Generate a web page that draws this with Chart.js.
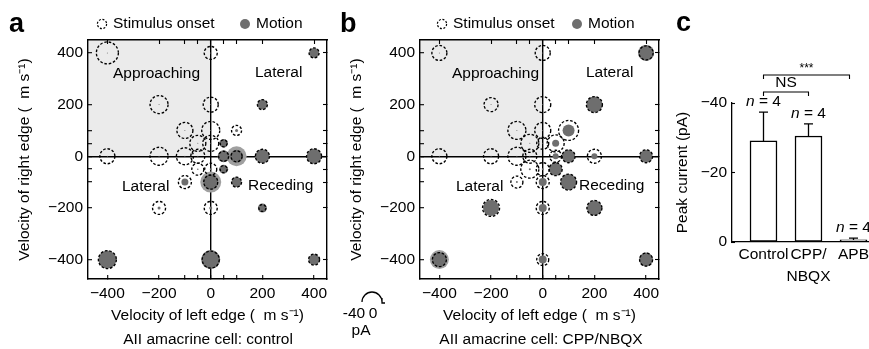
<!DOCTYPE html>
<html>
<head>
<meta charset="utf-8">
<script src="https://cdn.jsdelivr.net/npm/chart.js@4.4.1/dist/chart.umd.min.js"></script>
<style>
  html, body { margin: 0; padding: 0; background: #fff; width: 869px; height: 349px; overflow: hidden; }
  canvas { position: absolute; top: 0; }
</style>
</head>
<body>
<canvas id="chartA" width="345" height="349" style="left:0px"></canvas>
<canvas id="chartB" width="345" height="349" style="left:332px"></canvas>
<canvas id="chartC" width="250" height="349" style="left:640px"></canvas>
<script>
// stimulus grid: velocity of left edge / right edge (um/s)
const leftVel  = [-400, -200, -100, -50, 50, 100, 200, 400,   0,   0,   0,  0,   0,    0,    0,    0,  50, 100, 200, 400, -50, -100, -200, -400, -50, -100, -200, -400,  50,  100,  200,  400];
const rightVel = [   0,    0,    0,   0,  0,   0,   0,   0, 400, 200, 100, 50, -50, -100, -200, -400,  50, 100, 200, 400, -50, -100, -200, -400,  50,  100,  200,  400, -50, -100, -200, -400];

// panel a (control): response amplitudes, pA
const onsetCtrl  = [30, 36, 34, 28, 20, 22, 28, 30,  26, 30, 36, 32, 24, 28, 26, 34,  14, 20, 20, 20, 24, 26, 26, 36,  32, 32, 36, 44, 14, 20, 14, 22];
const motionCtrl = [ 2,  2,  2,  2, 24, 26, 28, 30,   2,  2,  2,  2,  4, 30,  6, 38,  17,  6, 20, 20,  3, 14,  6, 36,   2,  2,  2,  2, 18, 20, 18, 22];
const semCtrl    = [ 0,  0,  0,  0,  0, 40,  0,  0,   0,  0,  0,  0,  0, 42,  0,  0,   0,  0,  0,  0,  0,  0,  0,  0,   0,  0,  0,  0,  0,  0,  0,  0];

// panel b (CPP/NBQX)
const onsetDrug  = [30, 30, 36, 28, 24, 26, 28, 26,  30, 32, 32, 24, 26, 26, 26, 24,  34, 40, 32, 28, 36, 24, 34, 28,  36, 36, 28, 30, 26, 32, 30, 26];
const motionDrug = [ 2,  2,  2,  2, 12, 26, 12, 26,   2,  2,  2,  2,  4, 16, 16, 16,  14, 24, 32, 32,  4,  4, 32, 30,   2,  2,  2,  2, 26, 32, 30, 28];
const semDrug    = [ 0,  0,  0,  0,  0,  0,  0,  0,   0,  0,  0,  0,  0,  0,  0,  0,   0,  0,  0,  0,  0,  0,  0, 38,   0,  0,  0,  0,  0,  0,  0,  0];

const gridTicks = [-400, -200, -100, -50, 0, 50, 100, 200, 400];

// panel c
const barLabels = ['Control', ['CPP/', 'NBQX'], 'APB'];
const barPos = [1, 2, 3];
const peakCurrent = [-29.1, -30.5, -0.6];
const peakSem = [8.3, 3.5, 0.5];
const nCells = [4, 4, 4];
const peakTicks = [-40, -20, 0];

const PX_PER_PA = 0.25;
const INK = '#000';
const MOTION_GRAY = '#6e6e6e';
const HALO_GRAY = '#a0a0a0';
const SHADE = '#ebebeb';
const FONT = "'Liberation Sans', Arial, Helvetica, sans-serif";

Chart.defaults.font.family = FONT;
Chart.defaults.font.size = 15.5;
Chart.defaults.color = INK;
Chart.defaults.animation = false;
Chart.defaults.plugins.legend.display = false;
Chart.defaults.plugins.tooltip.enabled = false;

const minus = v => (v < 0 ? '\u2212' + Math.abs(v) : String(v));

function bubbles(amps) {
  return leftVel.map((x, i) => ({ x: x, y: rightVel[i], r: amps[i] * PX_PER_PA })).filter(p => p.r > 0);
}

function txt(ctx, s, x, y, font, align) {
  ctx.save();
  ctx.font = font;
  ctx.fillStyle = INK;
  ctx.textAlign = align || 'left';
  ctx.textBaseline = 'middle';
  ctx.fillText(s, x, y);
  ctx.restore();
}

// point elements ignore borderDash, so set it around the dataset draw
const dashPlugin = {
  id: 'dashPlugin',
  beforeDatasetDraw(chart, args) {
    const ds = chart.data.datasets[args.index];
    if (ds.dash) chart.ctx.setLineDash(ds.dash);
  },
  afterDatasetDraw(chart) { chart.ctx.setLineDash([]); }
};

const quadrantShade = {
  id: 'quadrantShade',
  beforeDraw(chart) {
    const { ctx, chartArea: a, scales } = chart;
    const x0 = scales.x.getPixelForValue(0), y0 = scales.y.getPixelForValue(0);
    ctx.save();
    ctx.fillStyle = SHADE;
    ctx.fillRect(a.left, a.top, x0 - a.left, y0 - a.top);
    ctx.restore();
  }
};

function velocityExtras(cfg) {
  return {
    id: 'velocityExtras',
    afterDraw(chart) {
      const ctx = chart.ctx;
      const f = '15.5px ' + FONT;
      txt(ctx, cfg.letter, cfg.letterX, 25, 'bold 27px ' + FONT);
      // legend
      ctx.save();
      ctx.strokeStyle = INK; ctx.lineWidth = 1.2; ctx.setLineDash([2, 1.6]);
      ctx.beginPath(); ctx.arc(cfg.legX, 24, 4.6, 0, Math.PI * 2); ctx.stroke();
      ctx.setLineDash([]);
      ctx.fillStyle = MOTION_GRAY;
      ctx.beginPath(); ctx.arc(cfg.legX2, 24, 5, 0, Math.PI * 2); ctx.fill();
      ctx.restore();
      txt(ctx, 'Stimulus onset', cfg.legX + 11, 24, f);
      txt(ctx, 'Motion', cfg.legX2 + 11, 24, f);
      // quadrant labels
      cfg.regions.forEach(r => txt(ctx, r[0], r[1], r[2], f));
      txt(ctx, cfg.caption, cfg.captionX, 340, f, 'center');
      if (cfg.scaleIcon) {
        const sx = cfg.scaleIcon[0], sy = cfg.scaleIcon[1];
        ctx.save();
        ctx.strokeStyle = INK; ctx.lineWidth = 1.3;
        ctx.beginPath();
        ctx.arc(sx, sy, 10, Math.PI, Math.PI * 2);
        ctx.moveTo(sx + 10, sy - 4); ctx.lineTo(sx + 10, sy + 1); ctx.lineTo(sx + 13, sy + 1);
        ctx.stroke();
        ctx.restore();
        txt(ctx, '-40', sx - 18, sy + 12, f, 'center');
        txt(ctx, '0', sx + 1, sy + 12, f, 'center');
        txt(ctx, 'pA', sx - 11, sy + 29, f, 'center');
      }
    }
  };
}

const zeroLine = c => (c.tick && c.tick.value === 0 ? INK : 'rgba(0,0,0,0)');
const gridTickBuild = s => { s.ticks = gridTicks.map(v => ({ value: v })); };
const gridLabel = v => (v % 200 === 0 ? minus(v) : '');

function velocityPanel(id, onset, motion, sem, cfg) {
  const base = { type: 'linear', min: -475, max: 450, afterBuildTicks: gridTickBuild, border: { color: INK, width: 1.4 } };
  const tickGrid = { drawOnChartArea: false, tickColor: INK, tickLength: -4, tickWidth: 1.1 };
  new Chart(document.getElementById(id), {
    type: 'bubble',
    data: {
      datasets: [
        { label: 'Stimulus onset', data: bubbles(onset), backgroundColor: 'rgba(0,0,0,0)', borderColor: INK, borderWidth: 1.35, dash: [2.6, 1.8], order: 0 },
        { label: 'Motion', data: bubbles(motion), backgroundColor: MOTION_GRAY, borderWidth: 0, order: 1 },
        { label: 'Motion SEM', data: bubbles(sem), backgroundColor: HALO_GRAY, borderWidth: 0, order: 2 }
      ]
    },
    options: {
      responsive: false,
      layout: { padding: { top: 40, right: 18, left: 0, bottom: 0 } },
      scales: {
        x: Object.assign({}, base, {
          position: 'bottom', axis: 'x',
          afterFit: s => { s.height = 70; },
          grid: { color: zeroLine, lineWidth: 1.4, tickColor: INK, tickLength: -4, tickWidth: 1.1 },
          ticks: { autoSkip: false, maxRotation: 0, padding: 9, callback: gridLabel },
          title: { display: true, text: 'Velocity of left edge (  m s\u207B\u00B9)', padding: { top: 0, bottom: 24 } }
        }),
        x2: Object.assign({}, base, {
          position: 'top', axis: 'x',
          afterFit: s => { s.height = 0; },
          grid: tickGrid,
          ticks: { autoSkip: false, callback: () => '' }
        }),
        y: Object.assign({}, base, {
          position: 'left', axis: 'y',
          afterFit: s => { s.width = 88; },
          grid: { color: zeroLine, lineWidth: 1.4, tickColor: INK, tickLength: -4, tickWidth: 1.1 },
          ticks: { autoSkip: false, padding: 9, callback: gridLabel },
          title: { display: true, text: 'Velocity of right edge (  m s\u207B\u00B9)', padding: { top: 15, bottom: 0 } }
        }),
        y2: Object.assign({}, base, {
          position: 'right', axis: 'y',
          afterFit: s => { s.width = 0; },
          grid: tickGrid,
          ticks: { autoSkip: false, callback: () => '' }
        })
      }
    },
    plugins: [quadrantShade, dashPlugin, velocityExtras(cfg)]
  });
}

velocityPanel('chartA', onsetCtrl, motionCtrl, semCtrl, {
  letter: 'a', letterX: 9, legX: 102, legX2: 245,
  regions: [['Approaching', 113, 74], ['Lateral', 255, 73], ['Lateral', 122, 187], ['Receding', 248, 186]],
  caption: 'AII amacrine cell: control', captionX: 208
});

velocityPanel('chartB', onsetDrug, motionDrug, semDrug, {
  letter: 'b', letterX: 8, legX: 110, legX2: 245,
  regions: [['Approaching', 120, 74], ['Lateral', 254, 73], ['Lateral', 124, 187], ['Receding', 247, 186]],
  caption: 'AII amacrine cell: CPP/NBQX', captionX: 209,
  scaleIcon: [40, 302]
});

// panel c: peak current bars
const barExtras = {
  id: 'barExtras',
  afterDatasetsDraw(chart) {
    const { ctx, scales: { x, y }, chartArea: a } = chart;
    const f = '15.5px ' + FONT;
    ctx.save();
    ctx.strokeStyle = INK; ctx.lineWidth = 1.3;
    barPos.forEach((p, i) => {
      const px = x.getPixelForValue(p);
      const yb = y.getPixelForValue(peakCurrent[i]);
      const yt = y.getPixelForValue(peakCurrent[i] - peakSem[i]);
      ctx.beginPath();
      ctx.moveTo(px, yb); ctx.lineTo(px, yt);
      ctx.moveTo(px - 4.5, yt); ctx.lineTo(px + 4.5, yt);
      ctx.stroke();
      // n label, italic n
      ctx.font = 'italic ' + f;
      const w1 = ctx.measureText('n').width;
      ctx.font = f;
      const rest = ' = ' + nCells[i];
      const w2 = ctx.measureText(rest).width;
      const x0 = px - (w1 + w2) / 2;
      txt(ctx, 'n', x0, yt - 10, 'italic ' + f);
      txt(ctx, rest, x0 + w1, yt - 10, f);
    });
    // significance brackets
    const bracket = (xa, xb, yy) => {
      ctx.beginPath();
      ctx.moveTo(xa, yy + 4); ctx.lineTo(xa, yy); ctx.lineTo(xb, yy); ctx.lineTo(xb, yy + 4);
      ctx.stroke();
    };
    ctx.lineWidth = 1.1;
    const x1 = x.getPixelForValue(barPos[0]), x2 = x.getPixelForValue(barPos[1]), x3 = x.getPixelForValue(barPos[2]) - 4;
    bracket(x1, x2, a.top - 11);
    bracket(x1, x3, a.top - 28);
    ctx.restore();
    txt(ctx, 'NS', (x1 + x2) / 2, a.top - 20, f, 'center');
    txt(ctx, '***', (x1 + x3) / 2, a.top - 34, '12px ' + FONT, 'center');
    txt(ctx, 'c', 36, 24, 'bold 27px ' + FONT);
  }
};

new Chart(document.getElementById('chartC'), {
  type: 'bar',
  data: {
    datasets: [{
      data: barPos.map((p, i) => ({ x: p, y: peakCurrent[i] })),
      backgroundColor: '#fff',
      borderColor: INK,
      borderWidth: 1.5,
      borderSkipped: false,
      barThickness: 27
    }]
  },
  options: {
    responsive: false,
    layout: { padding: { top: 103, right: 5, left: 0, bottom: 0 } },
    scales: {
      x: {
        type: 'linear', min: 0.3, max: 3.7, offset: false,
        afterBuildTicks: s => { s.ticks = barPos.map(v => ({ value: v })); },
        afterFit: s => { s.height = 107; },
        border: { color: INK, width: 1.3 },
        grid: { drawOnChartArea: false, drawTicks: false, offset: false },
        ticks: { autoSkip: false, maxRotation: 0, padding: 2, font: { lineHeight: 1.4 }, callback: v => barLabels[barPos.indexOf(v)] }
      },
      y: {
        type: 'linear', min: -40, max: 0, reverse: true,
        afterBuildTicks: s => { s.ticks = peakTicks.map(v => ({ value: v })); },
        afterFit: s => { s.width = 92; },
        border: { color: INK, width: 1.3 },
        grid: { drawOnChartArea: false, tickColor: INK, tickLength: -3, tickWidth: 1.1 },
        ticks: { padding: 8, callback: v => minus(v) },
        title: { display: true, text: 'Peak current (pA)', padding: { top: 33, bottom: 0 } }
      }
    }
  },
  plugins: [barExtras]
});
</script>
</body>
</html>
